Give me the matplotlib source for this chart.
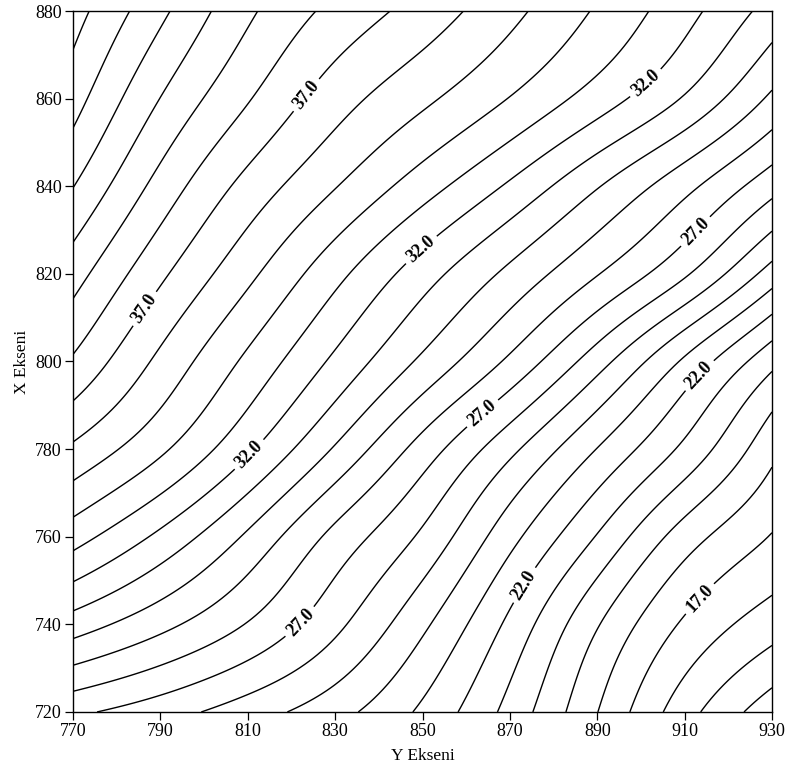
import numpy as np
import matplotlib
matplotlib.use("Agg")
import matplotlib.pyplot as plt

plt.rcParams['font.family'] = ['Liberation Serif', 'DejaVu Serif']

# horizontal axis ("Y Ekseni") and vertical axis ("X Ekseni") grid nodes
y_ekseni = [770, 790, 810, 830, 850, 870, 890, 910, 930]
x_ekseni = [720, 740, 760, 780, 800, 820, 840, 860, 880]

z_720 = [27.2, 26.43, 25.47, 24.36, 22.8, 20.66, 18.02, 15.41, 13.4]
z_740 = [30.52, 29.3, 27.94, 26.25, 24.21, 21.76, 19.08, 16.85, 15.45]
z_760 = [33.43, 31.77, 29.83, 27.7, 25.81, 23.34, 20.93, 18.51, 16.94]
z_780 = [35.82, 34.19, 32.18, 29.89, 27.57, 25.27, 22.97, 20.76, 18.3]
z_800 = [37.86, 35.76, 33.78, 31.79, 29.8, 27.8, 25.43, 22.83, 20.3]
z_820 = [39.43, 37.2, 35.25, 33.31, 31.45, 29.75, 28.05, 26.14, 23.55]
z_840 = [41.03, 38.63, 36.66, 35.05, 33.46, 31.84, 30.07, 28.31, 26.37]
z_860 = [42.42, 39.98, 38.08, 36.45, 35.22, 33.96, 32.52, 30.9, 28.8]
z_880 = [43.4, 41.24, 39.2, 37.72, 36.58, 35.29, 33.88, 32.35, 30.6]

contour_levels = list(range(14, 44))
label_levels = [17, 22, 27, 32, 37]
label_spots = [(821.9, 862.0), (786.9, 811.7), (901.5, 863.1), (849.8, 825.4),
               (810.5, 778.6), (913.4, 828.8), (863.1, 788.9), (821.2, 741.3),
               (913.4, 796.8), (872.3, 749.6), (913.2, 746.1)]

x_ticks = [770, 790, 810, 830, 850, 870, 890, 910, 930]
y_ticks = [720, 740, 760, 780, 800, 820, 840, 860, 880]


def spline_matrix(xk, xq):
    """Natural cubic spline weights so that f(xq) = W @ f(xk)."""
    xk = np.asarray(xk, float)
    n = len(xk)
    h = np.diff(xk)
    A = np.zeros((n, n))
    A[0, 0] = A[-1, -1] = 1.0
    for i in range(1, n - 1):
        A[i, i - 1] = h[i - 1]
        A[i, i] = 2 * (h[i - 1] + h[i])
        A[i, i + 1] = h[i]
    W = np.zeros((len(xq), n))
    for j in range(n):
        y = np.zeros(n)
        y[j] = 1.0
        rhs = np.zeros(n)
        for i in range(1, n - 1):
            rhs[i] = 6 * ((y[i + 1] - y[i]) / h[i] - (y[i] - y[i - 1]) / h[i - 1])
        M = np.linalg.solve(A, rhs)
        idx = np.clip(np.searchsorted(xk, xq) - 1, 0, n - 2)
        x0 = xk[idx]
        x1 = xk[idx + 1]
        hh = x1 - x0
        a = (x1 - xq) / hh
        b = (xq - x0) / hh
        W[:, j] = (a * y[idx] + b * y[idx + 1]
                   + ((a ** 3 - a) * M[idx] + (b ** 3 - b) * M[idx + 1]) * hh ** 2 / 6)
    return W


Z = np.array([z_720, z_740, z_760, z_780, z_800, z_820, z_840, z_860, z_880])
yq = np.linspace(y_ekseni[0], y_ekseni[-1], 161)
xq = np.linspace(x_ekseni[0], x_ekseni[-1], 161)
Wy = spline_matrix(y_ekseni, yq)
Wx = spline_matrix(x_ekseni, xq)
Zf = Wx @ Z @ Wy.T
YY, XX = np.meshgrid(yq, xq)

fig = plt.figure(figsize=(7.86, 7.81), dpi=100)
ax = fig.add_axes([0.0929, 0.0884, 0.8893, 0.8975])
plain_levels = [v for v in contour_levels if v not in label_levels]
ax.contour(YY, XX, Zf, levels=plain_levels, colors='black', linewidths=1.0)
cs_lab = ax.contour(YY, XX, Zf, levels=label_levels, colors='black', linewidths=1.0)
texts = ax.clabel(cs_lab, fmt='%.1f', manual=label_spots,
                  inline=True, inline_spacing=5, fontsize=13)
for t in texts:
    t.set_fontweight('bold')

ax.set_xlim(770, 930)
ax.set_ylim(720, 880)
ax.set_xticks(x_ticks)
ax.set_yticks(y_ticks)
ax.tick_params(direction='out', length=6, width=0.9, labelsize=13, pad=2)
for s in ax.spines.values():
    s.set_linewidth(1.0)
ax.set_xlabel('Y Ekseni', fontsize=12.5, labelpad=6)
ax.set_ylabel('X Ekseni', fontsize=12.5, labelpad=4)

fig.savefig('out.png', dpi=100)
